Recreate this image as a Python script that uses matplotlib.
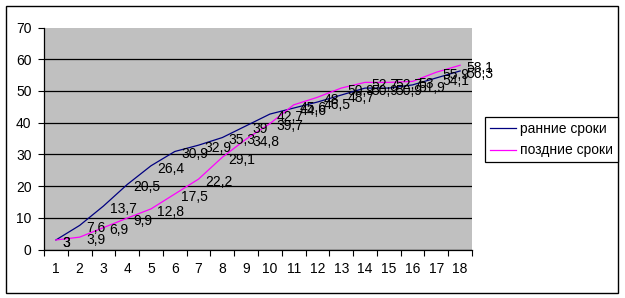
import matplotlib
matplotlib.use("Agg")
import matplotlib.pyplot as plt
from matplotlib.patches import Rectangle
from matplotlib.ticker import FixedLocator

# ---- data ----
categories = list(range(1, 19))
early = [3, 7.6, 13.7, 20.5, 26.4, 30.9, 32.9, 35.3, 39, 42.7, 44.6, 46.5,
         48.7, 50.9, 50.9, 51.9, 54.1, 56.3]
late = [3, 3.9, 6.9, 9.9, 12.8, 17.5, 22.2, 29.1, 34.8, 39.7, 45.6, 48,
        50.9, 52.7, 52.7, 53, 55.9, 58.1]
early_name = "ранние сроки"
late_name = "поздние сроки"
y_ticks = [0, 10, 20, 30, 40, 50, 60, 70]

plt.rcParams['font.family'] = ['Liberation Sans', 'DejaVu Sans']

W, H = 625, 298
fig = plt.figure(figsize=(W / 100, H / 100), dpi=100)
ax = fig.add_axes([44 / W, 1 - 249.5 / H, (472 - 44) / W, (249.5 - 27.5) / H])
ax.set_facecolor('#C0C0C0')

l1, = ax.plot(categories, early, color='#000080', lw=0.9, label=early_name)
l2, = ax.plot(categories, late, color='#FF00FF', lw=0.9, label=late_name)


def fmt(v):
    return ('%g' % v).replace('.', ',')


for xs, ys in ((categories, early), (categories, late)):
    for x, y in zip(xs, ys):
        ax.annotate(fmt(y), (x, y), xytext=(4.5, -2), textcoords='offset points',
                    ha='left', va='center', fontsize=10, color='black')

ax.set_xlim(0.5, 18.5)
ax.set_ylim(0, 70)
ax.set_yticks(y_ticks)
ax.set_yticklabels([str(t) for t in y_ticks], fontsize=10)
ax.xaxis.set_major_locator(FixedLocator([c - 0.5 for c in categories] + [18.5]))
ax.xaxis.set_ticklabels([])
ax.xaxis.set_minor_locator(FixedLocator(categories))
ax.set_xticklabels([str(c) for c in categories], minor=True, fontsize=10)
ax.tick_params(axis='x', which='major', length=4, width=0.8, direction='out')
ax.tick_params(axis='x', which='minor', length=0, pad=9)
ax.tick_params(axis='y', length=4, width=0.8, direction='out', pad=5)

ax.grid(axis='y', color='black', lw=0.9)
ax.set_axisbelow(True)
ax.get_ygridlines()[-1].set_visible(False)
for s in ('top', 'right'):
    ax.spines[s].set_visible(False)
for s in ('left', 'bottom'):
    ax.spines[s].set_color('black')
    ax.spines[s].set_linewidth(0.9)

leg = fig.legend(handles=[l1, l2], loc='upper left',
                 bbox_to_anchor=(485 / W, 1 - 117 / H), fontsize=10,
                 frameon=True, fancybox=False, edgecolor='black',
                 framealpha=1, borderpad=0.35, handlelength=1.9,
                 handletextpad=0.3, labelspacing=0.55, borderaxespad=0)
leg.get_frame().set_linewidth(0.9)

fig.patches.append(Rectangle((5.5 / W, 1 - 292.5 / H), (618 - 5.5) / W,
                             (292.5 - 5.5) / H, transform=fig.transFigure,
                             fill=False, edgecolor='black', lw=1))

fig.savefig('out.png', dpi=100, facecolor='white')
